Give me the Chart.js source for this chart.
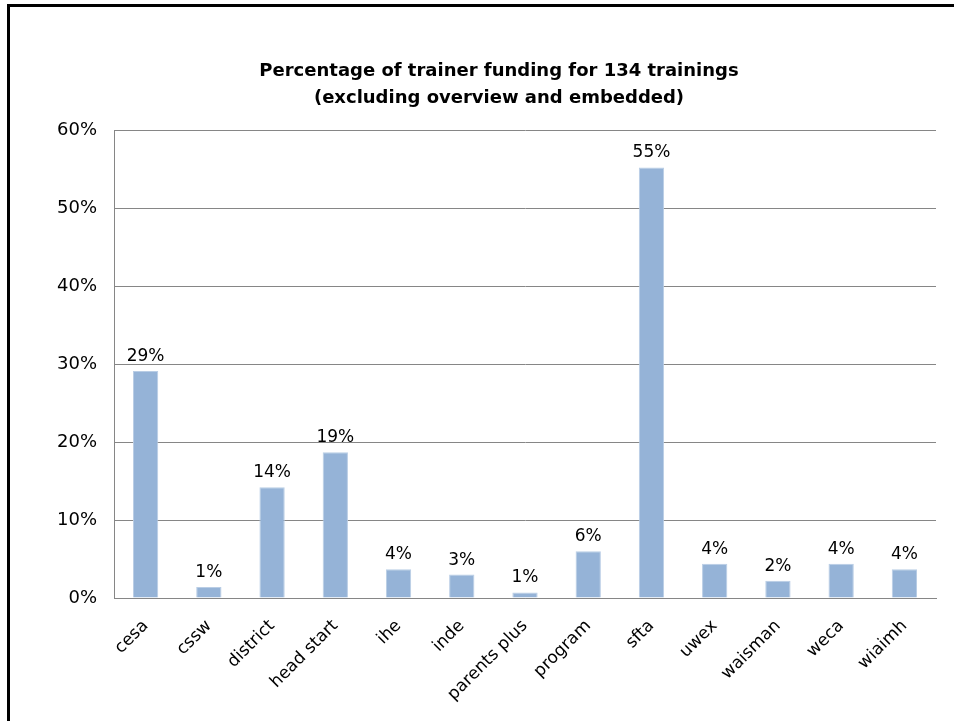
<!DOCTYPE html>
<html>
<head>
<meta charset="utf-8">
<script src="https://cdn.jsdelivr.net/npm/chart.js@4/dist/chart.umd.min.js"></script>
<style>
  html, body { margin: 0; padding: 0; background: #fff; }
  #wrap { position: relative; width: 954px; height: 721px; overflow: hidden; }
  #frame { position: absolute; left: 7px; top: 4px; right: -10px; bottom: -10px;
           border-top: 3px solid #000; border-left: 3px solid #000; pointer-events: none; }
</style>
</head>
<body>
<div id="wrap">
  <canvas id="barChart" width="954" height="721"></canvas>
  <div id="frame"></div>
</div>
<script>
const categories = ['cesa', 'cssw', 'district', 'head start', 'ihe', 'inde', 'parents plus',
                    'program', 'sfta', 'uwex', 'waisman', 'weca', 'wiaimh'];
const percentValues = [29.1, 1.4, 14.2, 18.7, 3.7, 3.0, 0.7, 6.0, 55.2, 4.4, 2.2, 4.4, 3.7];
const titleLines = ['Percentage of trainer funding for 134 trainings', '(excluding overview and embedded)'];

const fontFamily = "'DejaVu Sans', sans-serif";

// draws the value above each bar
const barLabels = {
  id: 'barLabels',
  afterLayout(chart) {
    // title sits a little right of the page centre in the original
    chart.titleBlock.left += 42;
  },
  afterDatasetsDraw(chart) {
    const ctx = chart.ctx;
    const meta = chart.getDatasetMeta(0);
    ctx.save();
    ctx.font = "17px " + fontFamily;
    ctx.fillStyle = '#000';
    ctx.textAlign = 'center';
    ctx.textBaseline = 'bottom';
    meta.data.forEach((bar, i) => {
      ctx.fillText(Math.round(percentValues[i]) + '%', bar.x, bar.y - 6);
    });
    ctx.restore();
  }
};

const ctx = document.getElementById('barChart');

new Chart(ctx, {
  type: 'bar',
  data: {
    labels: categories,
    datasets: [{
      data: percentValues,
      backgroundColor: '#95B3D7',
      borderColor: '#B9CDE5',
      borderWidth: { left: 1, right: 1, top: 1, bottom: 0 },
      categoryPercentage: 1.0,
      barPercentage: 0.4
    }]
  },
  options: {
    responsive: false,
    animation: false,
    layout: {
      padding: { left: 20, right: 18, top: 58, bottom: 6 }
    },
    plugins: {
      legend: { display: false },
      tooltip: { enabled: false },
      title: {
        display: true,
        text: titleLines,
        color: '#000',
        font: { family: fontFamily, size: 18, weight: 'bold', lineHeight: 1.5 },
        padding: { top: 0, bottom: 18 }
      }
    },
    scales: {
      x: {
        grid: { display: false, drawTicks: false },
        border: { display: true, color: '#868686', width: 1 },
        ticks: {
          color: '#000',
          font: { family: fontFamily, size: 17 },
          minRotation: 45,
          maxRotation: 45,
          padding: 18,
          autoSkip: false
        },
        afterFit: s => { s.height = 117; }
      },
      y: {
        min: 0,
        max: 60,
        grid: { color: '#868686', lineWidth: 1, drawTicks: false },
        border: { display: true, color: '#868686', width: 1 },
        ticks: {
          stepSize: 10,
          color: '#000',
          font: { family: fontFamily, size: 18 },
          padding: 17,
          callback: v => v + '%'
        },
        afterFit: s => { s.width = 94; }
      }
    }
  },
  plugins: [barLabels]
});
</script>
</body>
</html>
